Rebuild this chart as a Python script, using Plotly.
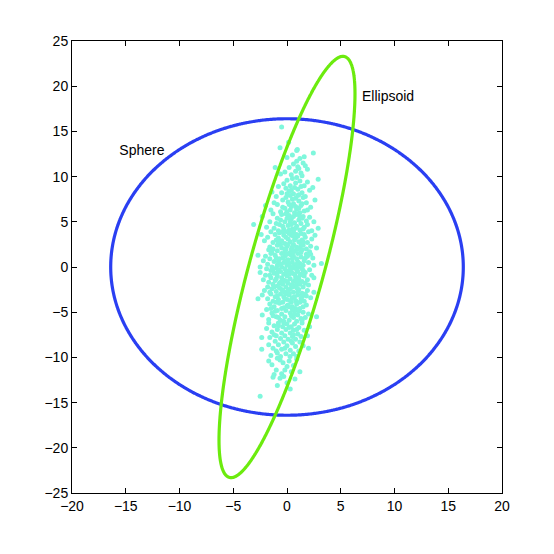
import numpy as np
import plotly.graph_objects as go

# ---- data ----
x_ticks = [-20, -15, -10, -5, 0, 5, 10, 15, 20]
y_ticks = [-25, -20, -15, -10, -5, 0, 5, 10, 15, 20, 25]

sphere_radius = 16.4
ellipsoid_semi_y = 23.3      # half-height of tilted ellipse
ellipsoid_top_x = 5.2        # x offset of ellipse's topmost point
ellipsoid_halfwidth = 3.6    # half-width at y = 0

labels = ["Sphere", "Ellipsoid"]
label_x = [-13.5, 9.4]
label_y = [12.8, 18.7]

cloud_points = [
    (-0.5, 15.5), (0.15, 13.8),
    (-0.65, 13.2), (0.96, 13.0), (2.45, 12.6), (0.9, 12.9), (0.0, 12.1), (1.2, 12.0), (0.5, 12.4), (1.6, 12.2),
    (-1.1, 11.0), (0.6, 11.4), (1.0, 11.1), (1.5, 11.5), (1.9, 10.8), (0.8, 10.6), (1.3, 10.4), (0.4, 10.2),
    (-0.2, 10.5), (1.4, 10.1), (0.9, 11.7), (0.2, 11.0), (1.1, 10.9), (-0.6, 10.3), (1.7, 11.2),
    (2.9, 9.7), (0.0, 9.6), (2.1, 8.5), (-1.4, 8.3), (0.5, 9.8), (0.8, 9.3), (1.2, 9.5), (0.3, 9.0), (-0.3, 9.2),
    (1.6, 9.0), (0.7, 8.8), (1.0, 8.6), (-0.8, 8.9), (0.2, 8.4), (1.4, 8.2), (0.6, 8.1), (-0.1, 8.7), (1.9, 9.4),
    (0.9, 9.9), (-0.5, 8.2), (1.1, 8.0), (0.4, 8.5), (1.3, 8.9), (0.0, 8.1), (2.4, 8.8),
    (-1.0, 7.8), (0.3, 7.9), (0.8, 7.6), (1.5, 7.7), (-0.4, 7.4), (0.1, 7.2), (1.1, 7.3), (1.8, 7.1), (0.6, 7.0),
    (-0.9, 6.9), (0.4, 6.7), (1.3, 6.8), (2.2, 6.6), (-0.2, 6.5), (0.9, 6.4), (1.6, 6.2), (-1.5, 6.3), (0.0, 6.1),
    (0.7, 6.0), (1.2, 6.0), (-0.6, 6.1), (2.6, 7.4), (0.5, 7.5), (-0.1, 7.7), (1.0, 7.9), (0.2, 6.9), (1.9, 6.3),
    (-1.2, 7.1), (0.8, 6.7), (1.4, 7.0), (-0.4, 6.6), (0.3, 6.3), (1.7, 7.8), (-2.0, 6.8), (1.1, 6.5),
    (-3.1, 4.7), (2.9, 4.3), (-1.3, 5.9), (-0.5, 5.8), (0.2, 5.7), (0.9, 5.8), (1.5, 5.6), (2.1, 5.5), (-0.9, 5.4),
    (0.4, 5.3), (1.1, 5.2), (1.8, 5.1), (-1.6, 5.0), (-0.2, 5.0), (0.7, 4.9), (1.3, 4.8), (-0.7, 4.7), (0.1, 4.6),
    (0.9, 4.5), (1.6, 4.4), (-1.2, 4.3), (-0.3, 4.2), (0.5, 4.2), (1.2, 4.1), (2.3, 4.0), (-0.8, 4.0), (0.2, 4.1),
    (0.0, 5.4), (0.6, 5.6), (1.4, 5.4), (-1.9, 4.4), (2.5, 5.0), (-0.4, 4.5), (0.8, 4.3), (1.0, 5.9), (-1.0, 4.8),
    (0.3, 5.0), (1.9, 4.7), (-0.1, 5.9), (0.6, 4.0), (1.5, 4.2), (-2.3, 5.6), (0.4, 4.7), (1.2, 5.5), (-0.6, 5.2),
    (-1.5, 3.9), (-0.7, 3.8), (0.0, 3.9), (0.6, 3.8), (1.3, 3.7), (2.0, 3.9), (-1.1, 3.6), (-0.3, 3.5), (0.4, 3.5),
    (1.0, 3.4), (1.7, 3.3), (2.6, 3.5), (-1.8, 3.3), (-0.8, 3.2), (0.1, 3.1), (0.8, 3.2), (1.4, 3.0), (-0.5, 2.9),
    (0.3, 2.8), (1.1, 2.8), (1.9, 2.7), (-1.3, 2.7), (-0.2, 2.6), (0.6, 2.5), (1.5, 2.4), (-0.9, 2.4), (0.0, 2.3),
    (0.9, 2.2), (2.2, 2.3), (-1.6, 2.2), (-0.5, 2.1), (0.4, 2.0), (1.2, 2.1), (-2.1, 2.9), (2.75, 2.1), (-0.1, 3.3),
    (0.7, 3.0), (1.6, 3.6), (-1.0, 3.0), (0.2, 3.7), (1.3, 2.5), (-0.6, 2.5), (0.5, 2.2), (1.8, 2.0), (-1.3, 2.0),
    (0.9, 3.6), (-0.4, 3.9), (0.1, 2.5), (1.0, 2.0), (-2.4, 3.6), (2.3, 3.1), (-0.8, 2.8), (0.6, 3.4), (1.5, 2.8),
    (-0.2, 2.0),
    (-2.7, 1.3), (3.2, 0.4), (-2.5, 0.0), (-1.7, 1.9), (-0.9, 1.8), (-0.1, 1.9), (0.7, 1.8), (1.4, 1.9), (2.1, 1.7),
    (-1.4, 1.6), (-0.5, 1.5), (0.3, 1.6), (1.0, 1.5), (1.8, 1.4), (-2.0, 1.2), (-1.1, 1.3), (-0.2, 1.2), (0.6, 1.2),
    (1.3, 1.1), (2.4, 1.0), (-1.6, 0.9), (-0.7, 0.9), (0.1, 0.8), (0.9, 0.9), (1.6, 0.7), (-1.2, 0.6), (-0.3, 0.5),
    (0.5, 0.5), (1.2, 0.4), (2.0, 0.5), (-1.8, 0.3), (-0.9, 0.2), (0.0, 0.2), (0.8, 0.1), (1.5, 0.2), (-0.5, 0.0),
    (0.3, 0.0), (1.1, 0.0), (-1.4, 0.0), (2.5, 0.2), (-0.2, 1.7), (0.4, 1.3), (1.7, 1.0), (-0.8, 0.6), (0.2, 0.4),
    (1.0, 0.6), (-1.0, 1.0), (0.6, 1.7), (1.9, 1.2), (-0.4, 1.0), (0.9, 0.3), (-1.5, 1.5), (0.0, 1.4), (1.3, 1.6),
    (-0.6, 0.3), (0.5, 0.9), (2.2, 1.4), (-2.2, 0.7), (0.7, 0.2), (-0.1, 0.7),
    (-2.2, -1.4), (2.3, -0.9), (2.0, -2.0), (-1.9, -0.2), (-1.0, -0.1), (-0.2, -0.2), (0.6, -0.1), (1.4, -0.2),
    (2.1, -0.3), (-1.5, -0.4), (-0.6, -0.5), (0.2, -0.4), (1.0, -0.5), (1.7, -0.6), (-1.2, -0.7), (-0.3, -0.8),
    (0.5, -0.7), (1.3, -0.8), (-2.0, -0.9), (-0.9, -1.0), (0.0, -1.0), (0.8, -1.1), (1.6, -1.0), (-1.5, -1.2),
    (-0.5, -1.2), (0.3, -1.3), (1.1, -1.3), (1.9, -1.4), (-1.1, -1.5), (-0.2, -1.5), (0.6, -1.6), (1.4, -1.6),
    (-1.7, -1.7), (-0.7, -1.8), (0.1, -1.8), (0.9, -1.9), (1.7, -1.8), (-1.3, -1.9), (-0.4, -1.9), (0.4, -2.0),
    (-0.8, -0.3), (0.4, -0.2), (1.2, -0.9), (-0.1, -0.6), (0.8, -1.4), (-1.6, -0.9), (-0.4, -1.4), (1.0, -1.7),
    (2.5, -1.2), (-2.5, -0.6), (0.2, -0.8), (0.9, -0.3), (-1.0, -1.3), (1.5, -0.4), (-0.6, -1.7), (0.7, -0.8),
    (-1.3, -0.3), (0.0, -1.6), (1.2, -1.9), (-0.9, -0.6),
    (-2.7, -3.5), (-1.8, -2.2), (-0.9, -2.1), (-0.1, -2.2), (0.7, -2.1), (1.5, -2.2), (-1.4, -2.4), (-0.5, -2.5),
    (0.3, -2.4), (1.1, -2.5), (1.9, -2.6), (-2.1, -2.6), (-1.0, -2.7), (-0.2, -2.8), (0.6, -2.8), (1.4, -2.9),
    (-1.5, -3.0), (-0.6, -3.0), (0.2, -3.1), (1.0, -3.1), (1.8, -3.2), (-1.1, -3.3), (-0.3, -3.3), (0.5, -3.4),
    (1.3, -3.5), (-1.8, -3.5), (-0.8, -3.6), (0.0, -3.6), (0.8, -3.7), (1.6, -3.8), (-1.3, -3.8), (-0.4, -3.9),
    (0.4, -3.9), (1.2, -3.9), (2.2, -3.4), (-2.3, -3.1), (0.1, -2.6), (0.9, -2.3), (-0.7, -2.3), (1.7, -3.0),
    (-0.1, -3.0), (0.7, -3.3), (-1.0, -3.9), (0.3, -3.7), (1.0, -2.7), (-0.4, -2.6), (-1.6, -2.8), (2.5, -2.8),
    (0.5, -2.2), (-0.2, -3.5), (1.4, -3.3), (-0.9, -3.2), (0.9, -3.9), (-1.2, -2.2), (0.2, -2.9),
    (1.8, -4.2), (2.75, -5.5), (-1.6, -4.1), (-0.7, -4.0), (0.1, -4.2), (0.9, -4.1), (1.5, -4.4), (-1.2, -4.4),
    (-0.3, -4.5), (0.5, -4.4), (1.2, -4.6), (-1.9, -4.7), (-0.9, -4.8), (-0.1, -4.8), (0.7, -4.9), (1.5, -5.0),
    (-1.4, -5.1), (-0.5, -5.2), (0.3, -5.1), (1.0, -5.3), (2.0, -5.2), (-1.0, -5.5), (-0.2, -5.5), (0.6, -5.6),
    (1.3, -5.7), (-1.7, -5.8), (-0.6, -5.9), (0.2, -5.9), (0.9, -6.0), (-1.3, -5.4), (0.0, -4.3), (0.8, -4.6),
    (-0.5, -4.6), (1.7, -5.6), (-2.3, -5.3), (0.4, -5.4), (-0.8, -5.6), (1.1, -4.9), (-0.3, -6.0), (0.5, -4.7),
    (-1.1, -4.9), (0.2, -4.4), (1.4, -5.9), (-1.5, -4.6), (0.7, -5.2),
    (-1.7, -6.2), (-0.8, -6.2), (0.0, -6.3), (0.7, -6.3), (1.4, -6.2), (-1.2, -6.5), (-0.4, -6.6), (0.4, -6.6),
    (1.1, -6.7), (-1.9, -6.8), (-0.9, -6.9), (-0.1, -6.9), (0.6, -7.0), (1.6, -7.0), (-1.4, -7.2), (-0.5, -7.3),
    (0.3, -7.3), (1.0, -7.4), (-1.0, -7.6), (-0.2, -7.6), (0.5, -7.7), (1.3, -7.7), (-1.6, -7.8), (-0.6, -7.9),
    (0.1, -8.0), (0.8, -8.0), (-2.35, -7.8), (2.1, -6.6), (-0.3, -6.2), (0.9, -6.9), (-1.2, -7.5), (0.2, -6.7),
    (1.9, -7.6), (-0.8, -6.5), (0.6, -7.5),
    (-2.35, -9.1), (2.0, -9.0), (-1.7, -8.6), (0.28, -9.9), (-1.1, -8.2), (-0.3, -8.3), (0.5, -8.4), (1.2, -8.3),
    (-0.8, -8.6), (0.0, -8.7), (0.8, -8.8), (-1.3, -9.0), (-0.5, -9.1), (0.3, -9.2), (1.1, -9.3), (-0.9, -9.5),
    (-0.1, -9.6), (0.6, -9.6), (-1.5, -9.8), (-0.6, -9.9), (1.5, -8.7), (0.9, -9.9), (-0.2, -9.0), (0.4, -8.2),
    (-1.0, -9.3),
    (-1.4, -10.8), (-0.37, -10.6), (-0.65, -10.3), (-1.0, -11.4), (-0.2, -11.4), (1.2, -11.6), (0.2, -10.4),
    (0.6, -10.9), (-0.9, -10.1), (-1.7, -10.4), (0.0, -11.0), (0.9, -10.2), (-0.5, -11.8), (0.4, -11.6), (-1.2, -11.9),
    (-1.3, -12.2), (-0.65, -12.3), (0.74, -12.4), (-2.5, -14.3), (0.0, -12.8), (-0.9, -13.1), (0.3, -13.5), (-0.3, -12.1),
]
cloud_x = [p[0] for p in cloud_points]
cloud_y = [p[1] for p in cloud_points]

# ---- outline curves from their geometric parameters ----
t = np.linspace(0, 2 * np.pi, 721)
sphere_x = sphere_radius * np.cos(t)
sphere_y = sphere_radius * np.sin(t)
ell_y = ellipsoid_semi_y * np.sin(t)
ell_x = (ellipsoid_top_x / ellipsoid_semi_y) * ell_y + ellipsoid_halfwidth * np.cos(t)

fig = go.Figure()
fig.add_trace(go.Scatter(x=cloud_x, y=cloud_y, mode="markers",
                         marker=dict(color="#7FF7DC", size=5, symbol="circle", line=dict(width=0)),
                         hoverinfo="skip"))
fig.add_trace(go.Scatter(x=sphere_x, y=sphere_y, mode="lines",
                         line=dict(color="#2A3FF2", width=3.2, shape="spline"), hoverinfo="skip"))
fig.add_trace(go.Scatter(x=ell_x, y=ell_y, mode="lines",
                         line=dict(color="#6CEB0E", width=3.2, shape="spline"), hoverinfo="skip"))
fig.add_trace(go.Scatter(x=label_x, y=label_y, mode="text", text=labels,
                         textfont=dict(family="Liberation Sans, Arial, sans-serif", size=14, color="black"),
                         hoverinfo="skip"))

axis_common = dict(showgrid=False, zeroline=False, showline=True, linecolor="black", linewidth=1,
                   mirror="ticks", ticks="inside", ticklen=5, tickcolor="black", tickwidth=1,
                   tickfont=dict(family="Liberation Sans, Arial, sans-serif", size=14, color="black"))
fig.update_layout(
    width=554, height=554,
    margin=dict(l=64, r=60, t=33, b=69),
    paper_bgcolor="white", plot_bgcolor="white",
    showlegend=False,
    xaxis=dict(range=[-20, 20], tickvals=x_ticks, **axis_common),
    yaxis=dict(range=[-25, 25], tickvals=y_ticks, **axis_common),
)
fig.write_html("out.html")
